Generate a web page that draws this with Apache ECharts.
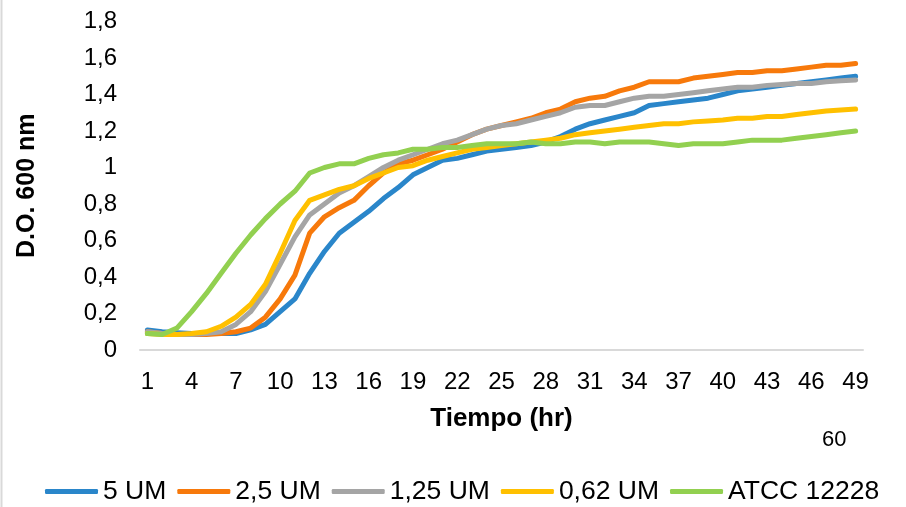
<!DOCTYPE html>
<html>
<head>
<meta charset="utf-8">
<script src="https://cdn.jsdelivr.net/npm/echarts@6/dist/echarts.min.js"></script>
<style>
  html, body { margin: 0; padding: 0; background: #fff; }
  #chart { width: 906px; height: 507px; }
</style>
</head>
<body>
<div id="chart"></div>
<script>
// Hours 1..49
const hours = Array.from({ length: 49 }, (_, i) => String(i + 1));

const seriesNames = ['5 UM', '2,5 UM', '1,25 UM', '0,62 UM', 'ATCC 12228'];
const seriesColors = ['#2A86CA', '#F7790B', '#A5A5A5', '#FFC000', '#92D050'];

// Optical density at 600 nm, one value per hour
const od5 = [
  0.11, 0.10, 0.095, 0.09, 0.09, 0.09, 0.09, 0.11, 0.14, 0.21,
  0.28, 0.42, 0.54, 0.64, 0.70, 0.76, 0.83, 0.89, 0.96, 1.00,
  1.04, 1.05, 1.07, 1.09, 1.10, 1.11, 1.12, 1.14, 1.17, 1.21,
  1.24, 1.26, 1.28, 1.30, 1.34, 1.35, 1.36, 1.37, 1.38, 1.40,
  1.42, 1.43, 1.44, 1.45, 1.46, 1.47, 1.48, 1.49, 1.50
];
const od25 = [
  0.10, 0.09, 0.085, 0.085, 0.085, 0.09, 0.10, 0.12, 0.18, 0.28,
  0.41, 0.64, 0.73, 0.78, 0.82, 0.90, 0.97, 1.02, 1.04, 1.07,
  1.10, 1.14, 1.18, 1.21, 1.23, 1.25, 1.27, 1.30, 1.32, 1.36,
  1.38, 1.39, 1.42, 1.44, 1.47, 1.47, 1.47, 1.49, 1.50, 1.51,
  1.52, 1.52, 1.53, 1.53, 1.54, 1.55, 1.56, 1.56, 1.57
];
const od125 = [
  0.10, 0.09, 0.085, 0.085, 0.09, 0.10, 0.14, 0.21, 0.32, 0.47,
  0.62, 0.74, 0.80, 0.86, 0.90, 0.95, 1.00, 1.04, 1.07, 1.10,
  1.13, 1.15, 1.18, 1.21, 1.23, 1.24, 1.26, 1.28, 1.30, 1.33,
  1.34, 1.34, 1.36, 1.38, 1.39, 1.39, 1.40, 1.41, 1.42, 1.43,
  1.44, 1.44, 1.45, 1.455, 1.46, 1.46, 1.47, 1.475, 1.48
];
const od062 = [
  0.09, 0.085, 0.085, 0.09, 0.10, 0.13, 0.18, 0.25, 0.36, 0.53,
  0.71, 0.82, 0.85, 0.88, 0.90, 0.94, 0.97, 1.00, 1.01, 1.04,
  1.06, 1.08, 1.10, 1.11, 1.12, 1.13, 1.14, 1.15, 1.16, 1.18,
  1.19, 1.20, 1.21, 1.22, 1.23, 1.24, 1.24, 1.25, 1.255, 1.26,
  1.27, 1.27, 1.28, 1.28, 1.29, 1.30, 1.31, 1.315, 1.32
];
const odAtcc = [
  0.09, 0.085, 0.12, 0.21, 0.31, 0.42, 0.53, 0.63, 0.72, 0.80,
  0.87, 0.97, 1.00, 1.02, 1.02, 1.05, 1.07, 1.08, 1.10, 1.10,
  1.11, 1.11, 1.12, 1.13, 1.13, 1.13, 1.14, 1.13, 1.13, 1.14,
  1.14, 1.13, 1.14, 1.14, 1.14, 1.13, 1.12, 1.13, 1.13, 1.13,
  1.14, 1.15, 1.15, 1.15, 1.16, 1.17, 1.18, 1.19, 1.20
];

const yMin = 0, yMax = 1.8, yStep = 0.2;
const xTitle = 'Tiempo (hr)';
const yTitle = 'D.O. 600 nm';
const cornerNote = '60';

const FONT = '"Liberation Sans", Arial, sans-serif';
const allSeries = [od5, od25, od125, od062, odAtcc];

const chart = echarts.init(document.getElementById('chart'), null, { renderer: 'canvas' });

chart.setOption({
  backgroundColor: '#ffffff',
  animation: false,
  color: seriesColors,
  textStyle: { fontFamily: FONT },
  grid: { left: 140, right: 43, top: 21.5, bottom: 157, containLabel: false },
  legend: {
    data: seriesNames,
    left: 40,
    top: 473,
    icon: 'roundRect',
    itemWidth: 53,
    itemHeight: 5,
    itemGap: 11,
    textStyle: { fontFamily: FONT, fontSize: 26.5, color: '#000' }
  },
  xAxis: {
    type: 'category',
    data: hours,
    boundaryGap: true,
    name: xTitle,
    nameLocation: 'middle',
    nameGap: 56,
    nameTextStyle: { fontFamily: FONT, fontSize: 26, fontWeight: 'bold', color: '#000' },
    axisLine: { lineStyle: { color: '#D9D9D9', width: 2 } },
    axisTick: { show: false },
    axisLabel: { interval: 2, margin: 20, fontFamily: FONT, fontSize: 24, color: '#000' },
    splitLine: { show: false }
  },
  yAxis: {
    type: 'value',
    min: yMin,
    max: yMax,
    interval: yStep,
    name: yTitle,
    nameLocation: 'middle',
    nameGap: 100,
    nameRotate: 90,
    nameTextStyle: { fontFamily: FONT, fontSize: 25, fontWeight: 'bold', color: '#000' },
    axisLine: { show: false },
    axisTick: { show: false },
    splitLine: { show: false },
    axisLabel: {
      margin: 23,
      fontFamily: FONT,
      fontSize: 24,
      color: '#000',
      formatter: v => String(+v.toFixed(1)).replace('.', ',')
    }
  },
  series: seriesNames.map((name, k) => ({
    name,
    type: 'line',
    data: allSeries[k],
    symbol: 'none',
    smooth: false,
    lineStyle: { width: 5, color: seriesColors[k], cap: 'round', join: 'round' },
    itemStyle: { color: seriesColors[k] }
  })),
  graphic: [
    {
      type: 'line',
      shape: { x1: 1.5, y1: 0, x2: 1.5, y2: 507 },
      style: { stroke: '#D9D9D9', lineWidth: 2 }
    },
    {
      type: 'text',
      left: 822,
      top: 429,
      style: { text: cornerNote, font: '22px ' + FONT, fill: '#000' }
    }
  ]
});
</script>
</body>
</html>
